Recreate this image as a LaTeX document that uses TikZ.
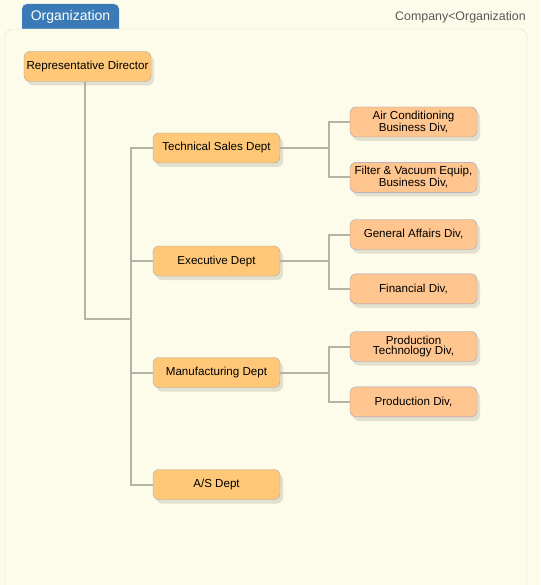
\documentclass[tikz,border=0pt]{standalone}
\usepackage{fontspec}
\setmainfont{Liberation Sans}
\usetikzlibrary{positioning,shadows}
\definecolor{hgrund}{HTML}{FDFBE9}
\definecolor{reiter}{HTML}{3A7AB6}
\definecolor{abtfill}{HTML}{FFC878}
\definecolor{divfill}{HTML}{FFC58E}
\definecolor{divrand}{HTML}{9CA0C8}
\definecolor{linie}{HTML}{B4B3A6}
\definecolor{schatten}{HTML}{E2E0CF}
\tikzset{
  kasten/.style={rounded corners=6pt,minimum width=127pt,minimum height=30pt,
    inner sep=1pt,align=center,font=\fontsize{11.6}{10.5}\selectfont,
    drop shadow={shadow xshift=3pt,shadow yshift=-4pt,fill=schatten,opacity=1}
  },
  abt/.style={kasten,fill=abtfill,draw=black!35},
  div/.style={kasten,fill=divfill,draw=divrand},
  verb/.style={draw=linie,line width=2pt},
  node distance=25pt
}
\begin{document}
\begin{tikzpicture}[x=1pt,y=-1pt]
\useasboundingbox[fill=hgrund] (0,0) rectangle (540,585);
% Reiter und Rahmen
\fill[reiter,rounded corners=5pt] (22,4) rectangle (119,40);
\node[text=white,font=\fontsize{14}{14}\selectfont] (titel) at (70.5,17) {Organization};
\node[anchor=east,inner sep=0pt,text=black!65,font=\fontsize{12.4}{12}\selectfont] (pfad) at (526,17) {Company<Organization};
\draw[black!13,fill=hgrund,rounded corners=8pt] (5,29) rectangle (527,610);
% Knoten
\node[abt] (rd) at (87.5,66.5) {Representative Director};
\node[abt] (ts) at (216.5,148) {Technical Sales Dept};
\node[abt] (ex) at (216.5,261) {Executive Dept};
\node[abt] (mf) at (216.5,372.5) {Manufacturing Dept};
\node[abt] (as) at (216.5,484.5) {A/S Dept};
\node[div] (ac) at (413.5,122) {Air Conditioning\\Business Div,};
\node[div,below=of ac] (fv) {Filter \& Vacuum Equip,\\Business Div,};
\node[div] (ga) at (413.5,234.5) {General Affairs Div,};
\node[div,below=24pt of ga] (fi) {Financial Div,};
\node[div] (pt) at (413.5,346.5) {Production\\Technology Div,};
\node[div,below=of pt] (pd) {Production Div,};
% Verbindungen
\coordinate (stamm) at (131,319);
\draw[verb] ([xshift=-2.5pt]rd.south) |- (stamm);
\draw[verb] (ts.west) -| (stamm) |- (as.west);
\draw[verb] (ex.west) -- (ex.west -| stamm);
\draw[verb] (mf.west) -- (mf.west -| stamm);
\foreach \d/\a/\b in {ts/ac/fv,ex/ga/fi,mf/pt/pd}{
  \draw[verb] (\d.east) -- ([xshift=-21pt]\a.west |- \d.east);
  \draw[verb] (\a.west) -| ([xshift=-21pt]\a.west) |- (\b.west);
}
\end{tikzpicture}
\end{document}
